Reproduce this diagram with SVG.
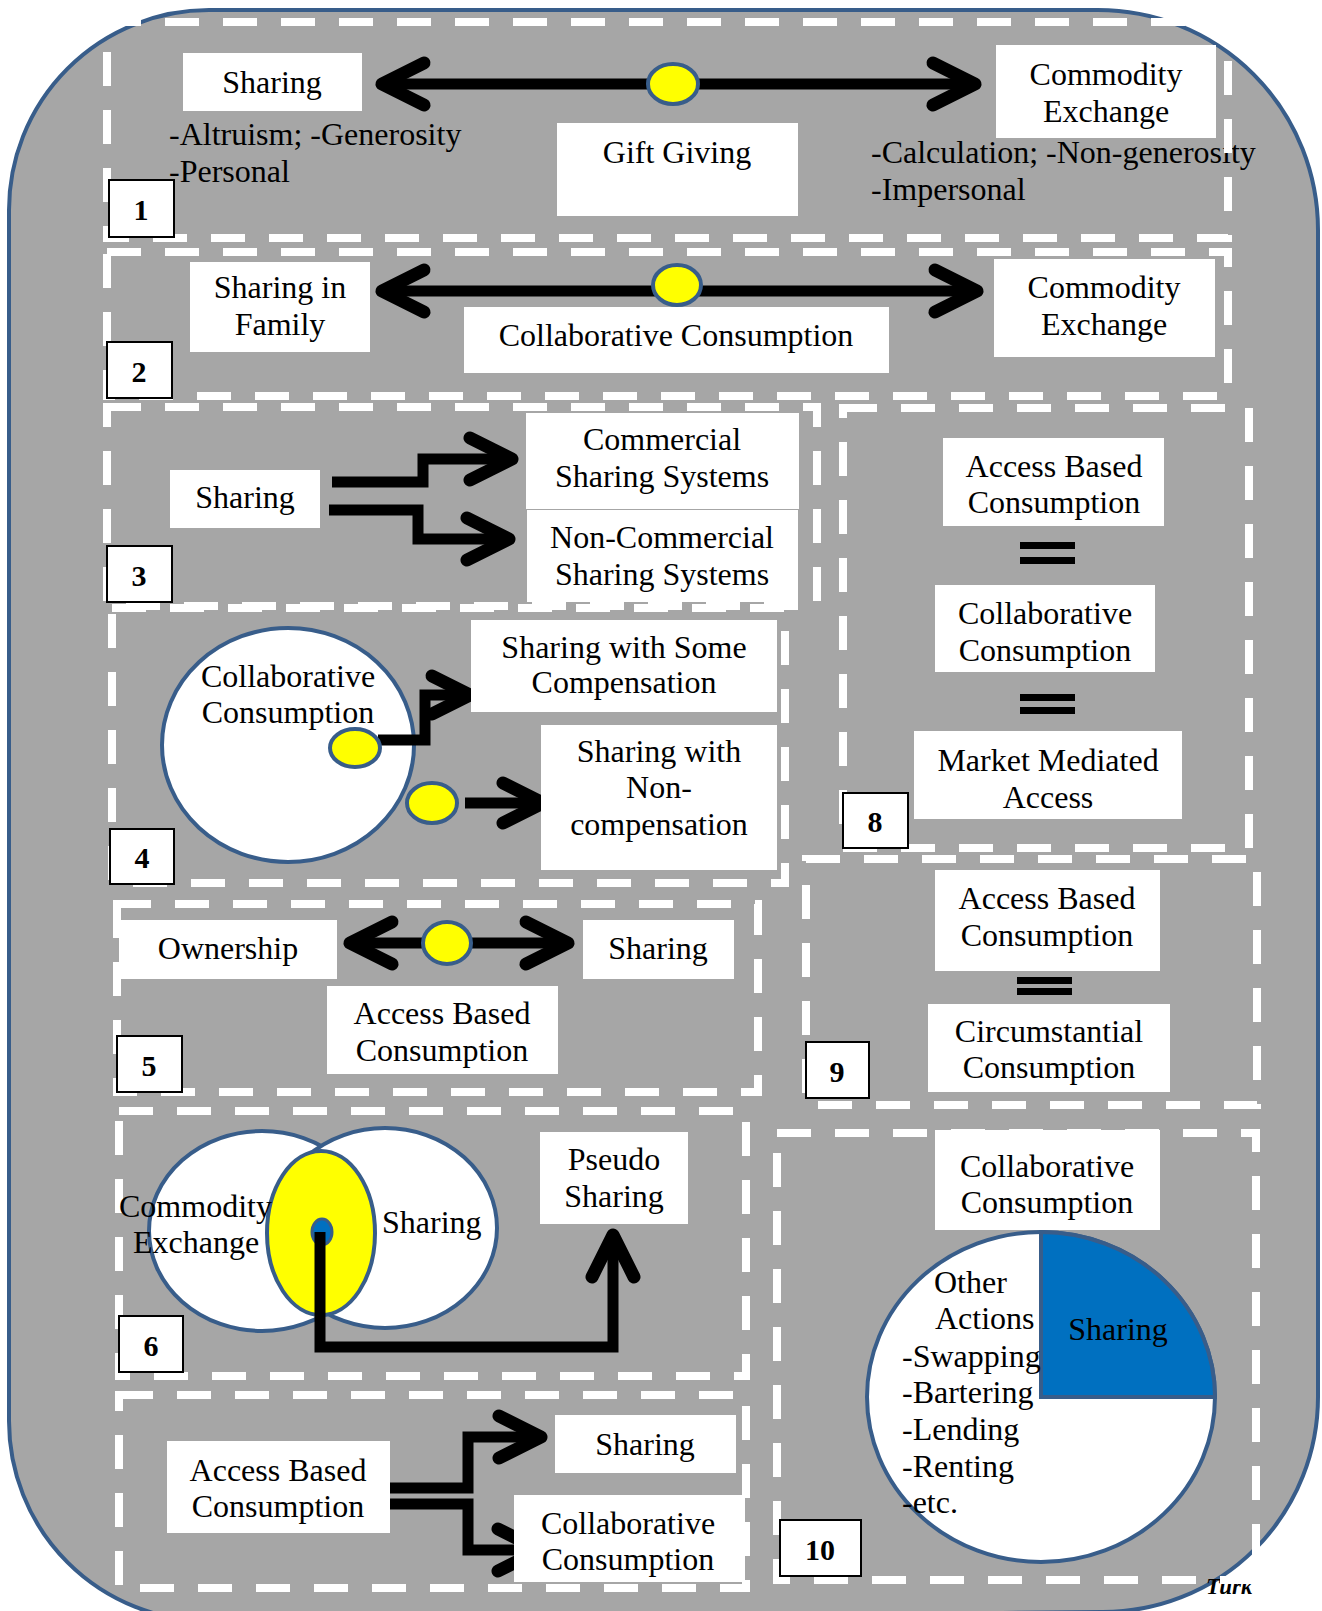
<svg xmlns="http://www.w3.org/2000/svg" width="1322" height="1611" viewBox="0 0 1322 1611">
<style>
.bg{fill:#A6A6A6;stroke:#385D8A;stroke-width:4}
.frame{fill:none;stroke:#FFFFFF;stroke-width:8;stroke-dasharray:34 24}
.box{fill:#FFFFFF}
.t{font-family:'Liberation Serif','Times New Roman',serif;font-size:32px;fill:#000}
.m{text-anchor:middle}
.nb{fill:#FFFFFF;stroke:#000;stroke-width:2}
.n{font-family:'Liberation Serif','Times New Roman',serif;font-size:30px;font-weight:bold;text-anchor:middle;fill:#000}
.ln{fill:none;stroke:#000;stroke-width:11;stroke-linejoin:miter}
.hd{fill:none;stroke:#000;stroke-width:13;stroke-linecap:round;stroke-linejoin:round}
.yel{fill:#FFFF00;stroke:#385D8A;stroke-width:4}
.ell{fill:#FFFFFF;stroke:#385D8A;stroke-width:4}
.eq{fill:#000}
</style>
<rect x="0" y="0" width="1322" height="1611" fill="#FFFFFF"/>
<path class="bg" d="M209 10 H1098 A220 220 0 0 1 1318 230 V1397 A215 215 0 0 1 1102 1612 L209 1621 A200 200 0 0 1 9 1421 V210 A200 200 0 0 1 209 10 Z"/>

<g id="notes">
<text class="t" x="169" y="145">-Altruism; -Generosity</text>
<text class="t" x="169" y="182">-Personal</text>
<text class="t" x="871" y="163">-Calculation; -Non-generosity</text>
<text class="t" x="871" y="200">-Impersonal</text>
<text class="t" x="1206" y="1594" style="font-size:23px;font-style:italic;font-weight:bold">Turk</text>
</g>

<g id="frames">
<rect class="frame" x="107" y="22" width="1121" height="216"/>
<rect class="frame" x="107" y="252" width="1121" height="144"/>
<rect class="frame" x="107" y="407" width="710" height="199"/>
<rect class="frame" x="112" y="608" width="673" height="275"/>
<rect class="frame" x="843" y="408" width="406" height="440"/>
<rect class="frame" x="806" y="859" width="451" height="246"/>
<rect class="frame" x="117" y="904" width="641" height="188"/>
<rect class="frame" x="119" y="1111" width="627" height="265"/>
<rect class="frame" x="119" y="1395" width="627" height="193"/>
<rect class="frame" x="777" y="1133" width="479" height="447"/>
</g>

<g id="node-cc-circle">
<ellipse class="ell" cx="288" cy="745" rx="126" ry="117"/>
<text class="t m" x="288" y="687">Collaborative</text>
<text class="t m" x="288" y="723">Consumption</text>
</g>

<g id="node-venn">
<ellipse class="ell" cx="262" cy="1231" rx="113" ry="100"/>
<ellipse class="ell" cx="385" cy="1228" rx="112" ry="100"/>
<ellipse class="yel" cx="321" cy="1233" rx="54" ry="82"/>
<ellipse cx="322" cy="1232" rx="10" ry="13" fill="#0070C0" stroke="#385D8A" stroke-width="3"/>
<text class="t" x="119" y="1217">Commodity</text>
<text class="t" x="133" y="1253">Exchange</text>
<text class="t" x="382" y="1233">Sharing</text>
</g>

<g id="node-pie">
<ellipse class="ell" cx="1041" cy="1397" rx="174" ry="165"/>
<path d="M1041 1397 V1232 A174 165 0 0 1 1215 1397 Z" fill="#0070C0" stroke="#385D8A" stroke-width="4"/>
<text class="t m" x="1118" y="1340">Sharing</text>
<text class="t" x="934" y="1293">Other</text>
<text class="t" x="935" y="1329">Actions</text>
<text class="t" x="902" y="1367">-Swapping</text>
<text class="t" x="902" y="1403">-Bartering</text>
<text class="t" x="902" y="1440">-Lending</text>
<text class="t" x="902" y="1477">-Renting</text>
<text class="t" x="902" y="1513">-etc.</text>
</g>

<g id="connectors">
<path class="ln" d="M382 84 H975"/>
<polyline class="hd" points="424,63 382,84 424,105"/>
<polyline class="hd" points="933,63 975,84 933,105"/>
<path class="ln" d="M382 291 H977"/>
<polyline class="hd" points="424,270 382,291 424,312"/>
<polyline class="hd" points="935,270 977,291 935,312"/>
<path class="ln" d="M332 482 H423 V459 H508"/>
<polyline class="hd" points="470,438 512,459 470,480"/>
<path class="ln" d="M329 510 H418 V539 H505"/>
<polyline class="hd" points="467,518 509,539 467,560"/>
<path class="ln" d="M378 740 H425 V695 H466"/>
<polyline class="hd" points="432,676 470,695 432,714"/>
<path class="ln" d="M465 803 H540"/>
<polyline class="hd" points="503,783 543,803 503,823"/>
<path class="ln" d="M350 943 H568"/>
<polyline class="hd" points="392,922 350,943 392,964"/>
<polyline class="hd" points="526,922 568,943 526,964"/>
<path class="ln" d="M320 1232 V1347 H613 V1240"/>
<polyline class="hd" points="592,1277 613,1235 634,1277"/>
<path class="ln" d="M389 1488 H468 V1437 H537"/>
<polyline class="hd" points="499,1416 541,1437 499,1458"/>
<path class="ln" d="M389 1504 H468 V1550 H520"/>
<polyline class="hd" points="498,1529 540,1550 498,1571"/>
</g>

<g id="markers">
<ellipse class="yel" cx="673" cy="84" rx="25" ry="20"/>
<ellipse class="yel" cx="677" cy="285" rx="24" ry="20"/>
<ellipse class="yel" cx="355" cy="748" rx="25" ry="19"/>
<ellipse class="yel" cx="432" cy="803" rx="25" ry="20"/>
<ellipse class="yel" cx="447" cy="943" rx="24" ry="21"/>
</g>

<g id="node-p1-sharing"><rect class="box" x="183" y="53" width="179" height="58"/><text class="t m" x="272" y="93">Sharing</text></g>
<g id="node-p1-commodity"><rect class="box" x="996" y="45" width="220" height="93"/><text class="t m" x="1106" y="85">Commodity</text><text class="t m" x="1106" y="122">Exchange</text></g>
<g id="node-p1-gift"><rect class="box" x="557" y="123" width="241" height="93"/><text class="t m" x="677" y="163">Gift Giving</text></g>

<g id="node-p2-family"><rect class="box" x="190" y="262" width="180" height="90"/><text class="t m" x="280" y="298">Sharing in</text><text class="t m" x="280" y="335">Family</text></g>
<g id="node-p2-cc"><rect class="box" x="464" y="307" width="425" height="66"/><text class="t m" x="676" y="346">Collaborative Consumption</text></g>
<g id="node-p2-commodity"><rect class="box" x="994" y="259" width="221" height="98"/><text class="t m" x="1104" y="298">Commodity</text><text class="t m" x="1104" y="335">Exchange</text></g>

<g id="node-p3-sharing"><rect class="box" x="170" y="470" width="150" height="58"/><text class="t m" x="245" y="508">Sharing</text></g>
<g id="node-p3-commercial"><rect class="box" x="526" y="413" width="273" height="96"/><text class="t m" x="662" y="450">Commercial</text><text class="t m" x="662" y="487">Sharing Systems</text></g>
<g id="node-p3-noncommercial"><rect class="box" x="527" y="510" width="271" height="92"/><text class="t m" x="662" y="548">Non-Commercial</text><text class="t m" x="662" y="585">Sharing Systems</text></g>

<g id="node-p4-some"><rect class="box" x="471" y="620" width="306" height="92"/><text class="t m" x="624" y="658">Sharing with Some</text><text class="t m" x="624" y="693">Compensation</text></g>
<g id="node-p4-non"><rect class="box" x="541" y="725" width="236" height="145"/><text class="t m" x="659" y="762">Sharing with</text><text class="t m" x="659" y="798">Non-</text><text class="t m" x="659" y="835">compensation</text></g>

<g id="node-p8-abc"><rect class="box" x="943" y="438" width="221" height="88"/><text class="t m" x="1054" y="477">Access Based</text><text class="t m" x="1054" y="513">Consumption</text></g>
<g id="node-p8-eq1"><rect class="eq" x="1020" y="542" width="55" height="7"/><rect class="eq" x="1020" y="557" width="55" height="7"/></g>
<g id="node-p8-cc"><rect class="box" x="935" y="585" width="220" height="87"/><text class="t m" x="1045" y="624">Collaborative</text><text class="t m" x="1045" y="661">Consumption</text></g>
<g id="node-p8-eq2"><rect class="eq" x="1020" y="694" width="55" height="7"/><rect class="eq" x="1020" y="707" width="55" height="7"/></g>
<g id="node-p8-mma"><rect class="box" x="914" y="731" width="268" height="88"/><text class="t m" x="1048" y="771">Market Mediated</text><text class="t m" x="1048" y="808">Access</text></g>

<g id="node-p9-abc"><rect class="box" x="935" y="870" width="225" height="101"/><text class="t m" x="1047" y="909">Access Based</text><text class="t m" x="1047" y="946">Consumption</text></g>
<g id="node-p9-eq"><rect class="eq" x="1017" y="977" width="55" height="7"/><rect class="eq" x="1017" y="988" width="55" height="7"/></g>
<g id="node-p9-circ"><rect class="box" x="928" y="1004" width="242" height="88"/><text class="t m" x="1049" y="1042">Circumstantial</text><text class="t m" x="1049" y="1078">Consumption</text></g>

<g id="node-p5-ownership"><rect class="box" x="119" y="920" width="218" height="59"/><text class="t m" x="228" y="959">Ownership</text></g>
<g id="node-p5-sharing"><rect class="box" x="583" y="920" width="151" height="59"/><text class="t m" x="658" y="959">Sharing</text></g>
<g id="node-p5-abc"><rect class="box" x="327" y="986" width="231" height="88"/><text class="t m" x="442" y="1024">Access Based</text><text class="t m" x="442" y="1061">Consumption</text></g>

<g id="node-p6-pseudo"><rect class="box" x="540" y="1132" width="148" height="92"/><text class="t m" x="614" y="1170">Pseudo</text><text class="t m" x="614" y="1207">Sharing</text></g>

<g id="node-p7-abc"><rect class="box" x="167" y="1441" width="223" height="92"/><text class="t m" x="278" y="1481">Access Based</text><text class="t m" x="278" y="1517">Consumption</text></g>
<g id="node-p7-sharing"><rect class="box" x="555" y="1415" width="181" height="58"/><text class="t m" x="645" y="1455">Sharing</text></g>
<g id="node-p7-cc"><rect class="box" x="514" y="1495" width="231" height="87"/><text class="t m" x="628" y="1534">Collaborative</text><text class="t m" x="628" y="1570">Consumption</text></g>

<g id="node-p10-cc"><rect class="box" x="935" y="1130" width="225" height="100"/><text class="t m" x="1047" y="1177">Collaborative</text><text class="t m" x="1047" y="1213">Consumption</text></g>

<g id="numbers">
<g id="num-1"><rect class="nb" x="109" y="180" width="65" height="57"/><text class="n" x="141" y="220">1</text></g>
<g id="num-2"><rect class="nb" x="107" y="342" width="65" height="56"/><text class="n" x="139" y="382">2</text></g>
<g id="num-3"><rect class="nb" x="107" y="546" width="65" height="56"/><text class="n" x="139" y="586">3</text></g>
<g id="num-4"><rect class="nb" x="110" y="829" width="64" height="55"/><text class="n" x="142" y="868">4</text></g>
<g id="num-5"><rect class="nb" x="117" y="1036" width="65" height="56"/><text class="n" x="149" y="1076">5</text></g>
<g id="num-6"><rect class="nb" x="119" y="1316" width="64" height="56"/><text class="n" x="151" y="1356">6</text></g>
<g id="num-8"><rect class="nb" x="843" y="793" width="65" height="55"/><text class="n" x="875" y="832">8</text></g>
<g id="num-9"><rect class="nb" x="806" y="1042" width="63" height="56"/><text class="n" x="837" y="1082">9</text></g>
<g id="num-10"><rect class="nb" x="780" y="1520" width="81" height="56"/><text class="n" x="820" y="1560">10</text></g>
</g>
</svg>
